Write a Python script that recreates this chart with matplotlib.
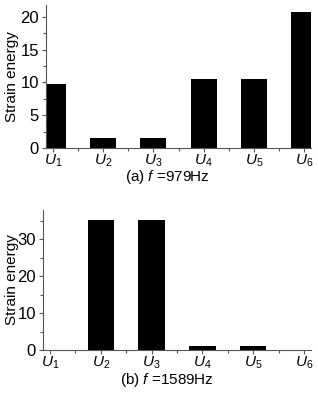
import matplotlib
matplotlib.use("Agg")
import matplotlib.pyplot as plt
from matplotlib.ticker import MultipleLocator

plt.rcParams["font.family"] = ["Liberation Sans", "DejaVu Sans"]
plt.rcParams["mathtext.fontset"] = "custom"
plt.rcParams["mathtext.rm"] = "Liberation Sans"
plt.rcParams["mathtext.it"] = "Liberation Sans:italic"

# Data
positions = [1, 2, 3, 4, 5, 6]
tick_labels = [r"$U_{\mathrm{%d}}$" % i for i in positions]
energy_a = [9.8, 1.55, 1.55, 10.5, 10.5, 20.8]
energy_b = [0.0, 35.2, 35.2, 1.2, 1.2, 0.0]
captions = [r"(a) $f$ =979Hz", r"(b) $f$ =1589Hz"]

W, H = 318, 394
fig = plt.figure(figsize=(W / 100, H / 100), dpi=100)

spine_color = "#555555"


def setup(ax, left_px, values, ylim, ymajor, yminor, caption, cap_y):
    ax.bar(positions, values, width=0.52, color="black", zorder=2)
    ax.set_xlim(0.86, 6.14)
    ax.set_ylim(*ylim)
    ax.set_xticks(positions)
    ax.set_xticklabels(tick_labels)
    ax.set_xticks([p + 0.5 for p in positions[:-1]], minor=True)
    ax.yaxis.set_major_locator(MultipleLocator(ymajor))
    ax.yaxis.set_minor_locator(MultipleLocator(yminor))
    ax.tick_params(axis="both", which="major", direction="out", length=3,
                   width=0.8, color=spine_color)
    ax.tick_params(axis="x", which="major", pad=0, labelsize=11)
    ax.tick_params(axis="y", which="major", pad=2, labelsize=12)
    ax.tick_params(axis="both", which="minor", direction="out", length=2,
                   width=0.8, color=spine_color)
    for s in ["top", "right"]:
        ax.spines[s].set_visible(False)
    for s in ["left", "bottom"]:
        ax.spines[s].set_color(spine_color)
        ax.spines[s].set_linewidth(0.8)
    ax.set_ylabel("Strain energy", fontsize=11)
    ax.yaxis.set_label_coords((19 - left_px) / (311 - left_px), 0.5)
    fig.text(167 / W, 1 - cap_y / H, caption, ha="center", va="center",
             fontsize=11)


ax1 = fig.add_axes([46 / W, 1 - 148 / H, (311 - 46) / W, (148 - 5) / H])
setup(ax1, 46, energy_a, (0, 21.8), 5, 2.5, captions[0], 177)

ax2 = fig.add_axes([43 / W, 1 - 350 / H, (311 - 43) / W, (350 - 210) / H])
setup(ax2, 43, energy_b, (0, 38), 10, 5, captions[1], 380)

fig.savefig("out.png", dpi=100)
